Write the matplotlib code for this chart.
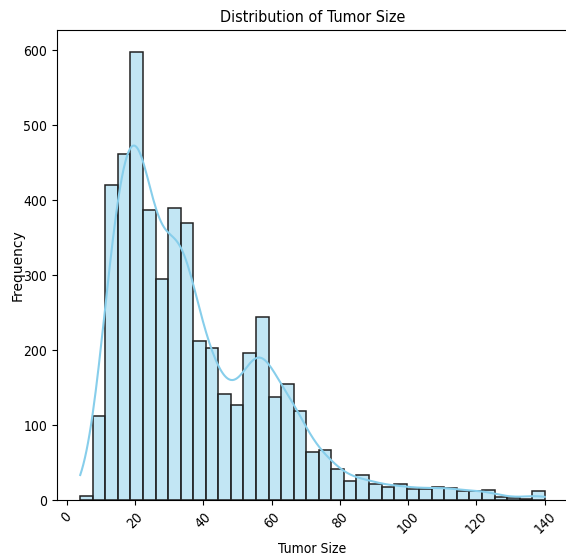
import matplotlib
matplotlib.use("Agg")
import matplotlib.pyplot as plt
import numpy as np

# histogram of tumor size (37 bins between min and max)
size_min = 4
size_max = 140
counts = [6, 112, 420, 462, 597, 387, 295, 390, 369, 212,
          203, 141, 127, 196, 244, 137, 155, 119, 64, 67,
          41, 25, 33, 22, 18, 21, 15, 15, 18, 16,
          12, 12, 14, 4, 3, 2, 12]
xticks = [0, 20, 40, 60, 80, 100, 120, 140]
yticks = [0, 100, 200, 300, 400, 500, 600]

plt.rcParams['font.family'] = 'DejaVu Sans'
plt.rcParams['font.stretch'] = 'condensed'

counts = np.array(counts, dtype=float)
edges = np.linspace(size_min, size_max, len(counts) + 1)
width = edges[1] - edges[0]
centers = (edges[:-1] + edges[1:]) / 2

# kde from binned data, scott's rule
n = counts.sum()
mean = np.sum(counts * centers) / n
std = np.sqrt(np.sum(counts * (centers - mean) ** 2) / n)
bw = std * n ** (-0.2)
grid = np.linspace(size_min, size_max, 300)
dens = np.zeros_like(grid)
for c, w in zip(centers, counts):
    dens += w * np.exp(-0.5 * ((grid - c) / bw) ** 2) / (bw * np.sqrt(2 * np.pi))
kde = dens * width

fig = plt.figure(figsize=(5.66, 5.60), dpi=100)
ax = fig.add_axes([57 / 566, 60 / 560, 511 / 566, 470 / 560])

ax.bar(edges[:-1], counts, width=width, align='edge',
       facecolor=(135/255, 206/255, 235/255, 0.5), edgecolor='#222222', linewidth=1.1)
ax.plot(grid, kde, color='skyblue', linewidth=1.5)

ax.set_xlim(size_min - 0.05 * (size_max - size_min), size_max + 0.05 * (size_max - size_min))
ax.set_ylim(0, counts.max() * 1.05)
ax.set_xticks(xticks)
ax.set_yticks(yticks)
plt.xticks(rotation=45)
ax.set_title("Distribution of Tumor Size", fontsize=11.5)
ax.set_xlabel("Tumor Size")
ax.set_ylabel("Frequency", fontstretch='normal', labelpad=-1)

fig.savefig("out.png", dpi=100)
